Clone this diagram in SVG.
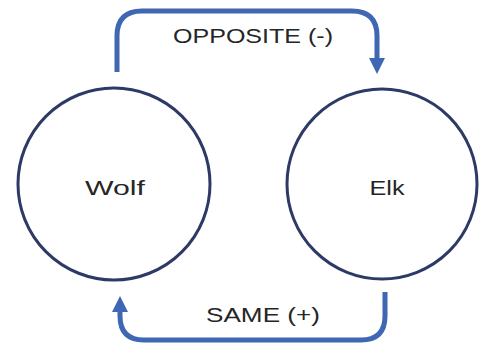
<svg xmlns="http://www.w3.org/2000/svg" width="479" height="343" viewBox="0 0 479 343">
<style>
.node{fill:#fff;stroke:#2e3a66;stroke-width:3}
.lbl{font-family:"Liberation Sans",Arial,sans-serif;font-size:21px;fill:#262626;text-anchor:middle}
.conn{fill:none;stroke:#3f67b3;stroke-width:5;stroke-linejoin:round}
</style>
<defs>
<marker id="ah" viewBox="0 0 10 10" refX="5" refY="5" markerWidth="3.2" markerHeight="3.2" orient="auto" markerUnits="strokeWidth">
<path d="M0,0 L10,5 L0,10 z" fill="#3f67b3"/>
</marker>
</defs>
<rect width="479" height="343" fill="#fff"/>
<g id="connectors">
<path class="conn" d="M117,72 V36 Q117,11 142,11 H352 Q377,11 377,36 V66" marker-end="url(#ah)"/>
<path class="conn" d="M385,292 V316 Q385,340 361,340 H144 Q120,340 120,316 V304" marker-end="url(#ah)"/>
<text class="lbl" x="253" y="43" textLength="160" lengthAdjust="spacingAndGlyphs">OPPOSITE (-)</text>
<text class="lbl" x="263" y="322" textLength="114" lengthAdjust="spacingAndGlyphs">SAME (+)</text>
</g>
<g id="wolf">
<circle class="node" cx="114" cy="184" r="96"/>
<text class="lbl" x="115" y="195" textLength="60" lengthAdjust="spacingAndGlyphs">Wolf</text>
</g>
<g id="elk">
<circle class="node" cx="382" cy="184" r="95"/>
<text class="lbl" x="387" y="195" textLength="35" lengthAdjust="spacingAndGlyphs">Elk</text>
</g>
</svg>
